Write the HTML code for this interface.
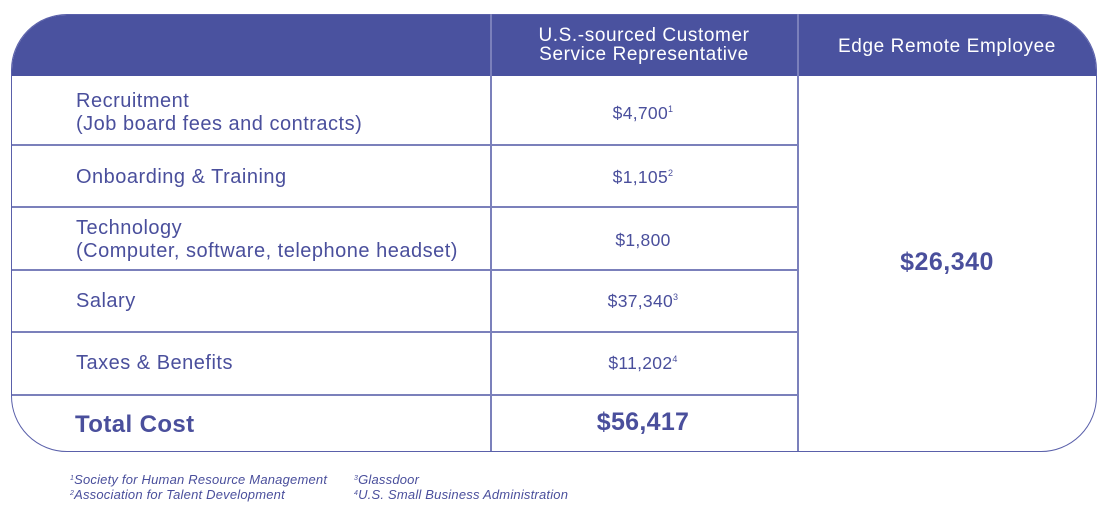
<!DOCTYPE html>
<html><head><style>
body{margin:0;width:1100px;height:512px;background:#fff;position:relative;font-family:"Liberation Sans",sans-serif;color:#4a4f9c;overflow:hidden}
.box{position:absolute;left:11px;top:14px;width:1084px;height:436px;border:1.5px solid #5a60aa;border-radius:56px;overflow:hidden}
.hdr{position:absolute;left:0;top:0;width:100%;height:61px;background:#4a529f}
.v{position:absolute;top:14px;height:437px;width:1.5px;background:#7b80bb}
.h{position:absolute;left:12px;width:785px;height:1.5px;background:#7b80bb}
.t{position:absolute;white-space:nowrap}
.lab{left:76px;font-size:20px;line-height:23px;letter-spacing:0.5px}
.val{font-size:17.5px;text-align:center;width:306px;left:490px;letter-spacing:0.3px}
sup{font-size:9px;vertical-align:7px}
.wh{color:#fff;font-size:19px;text-align:center;line-height:19px;letter-spacing:0.6px}
.fn{font-style:italic;font-size:13px;color:#4a4f9c;letter-spacing:0.2px}
</style></head><body>
<div class="box"><div class="hdr"></div></div>
<div class="v" style="left:490px"></div>
<div class="v" style="left:797px"></div>
<div class="h" style="top:144px"></div>
<div class="h" style="top:206px"></div>
<div class="h" style="top:269px"></div>
<div class="h" style="top:331px"></div>
<div class="h" style="top:394px"></div>
<div class="t wh" style="left:491px;width:306px;top:26px">U.S.-sourced Customer<br>Service Representative</div>
<div class="t wh" style="left:798px;width:298px;top:37px">Edge Remote Employee</div>
<div class="t lab" style="top:90px">Recruitment<br>(Job board fees and contracts)</div>
<div class="t lab" style="top:166px">Onboarding &amp; Training</div>
<div class="t lab" style="top:217px">Technology<br>(Computer, software, telephone headset)</div>
<div class="t lab" style="top:290px">Salary</div>
<div class="t lab" style="top:352px">Taxes &amp; Benefits</div>
<div class="t" style="left:75px;top:411px;font-size:24px;font-weight:bold;letter-spacing:0.4px">Total Cost</div>
<div class="t val" style="top:103px">$4,700<sup>1</sup></div>
<div class="t val" style="top:167px">$1,105<sup>2</sup></div>
<div class="t val" style="top:230px">$1,800</div>
<div class="t val" style="top:291px">$37,340<sup>3</sup></div>
<div class="t val" style="top:353px">$11,202<sup>4</sup></div>
<div class="t val" style="top:408px;font-size:25px;font-weight:bold">$56,417</div>
<div class="t" style="left:798px;width:298px;text-align:center;top:248px;font-size:25px;font-weight:bold;letter-spacing:0.5px">$26,340</div>
<div class="t fn" style="left:70px;top:472px"><sup style="font-size:7px;vertical-align:4px">1</sup>Society for Human Resource Management</div>
<div class="t fn" style="left:70px;top:487px"><sup style="font-size:7px;vertical-align:4px">2</sup>Association for Talent Development</div>
<div class="t fn" style="left:354px;top:472px"><sup style="font-size:7px;vertical-align:4px">3</sup>Glassdoor</div>
<div class="t fn" style="left:354px;top:487px"><sup style="font-size:7px;vertical-align:4px">4</sup>U.S. Small Business Administration</div>
</body></html>
